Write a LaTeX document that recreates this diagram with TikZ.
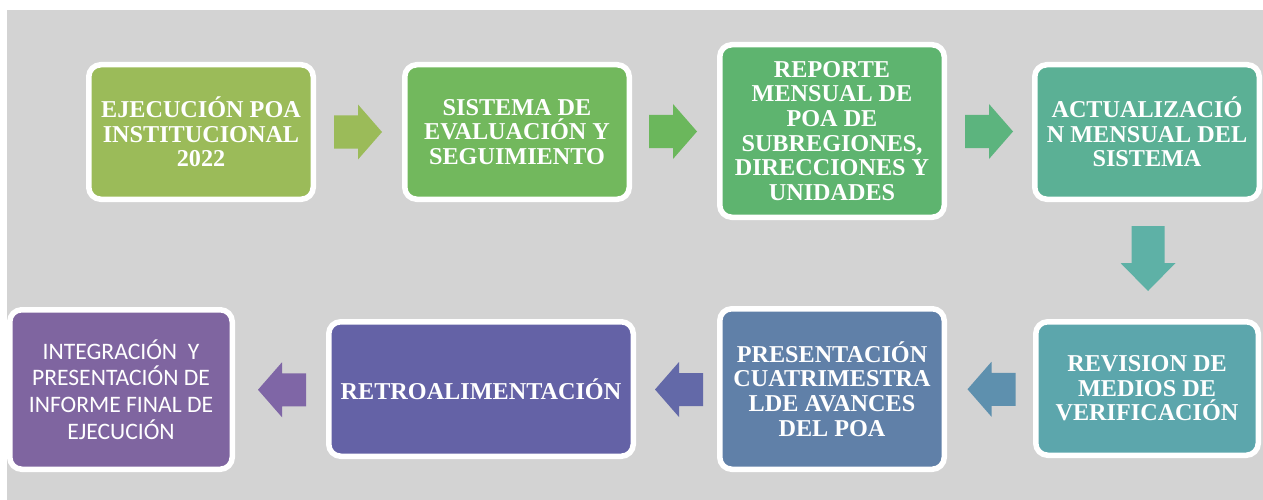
\documentclass[tikz,border=0pt]{standalone}
\usepackage{fontspec}
\setmainfont{Liberation Serif}
\newfontfamily\calfont{Carlito}
\usetikzlibrary{calc}
\definecolor{bg}{HTML}{D3D3D3}
\definecolor{cA}{HTML}{9BBB59}
\definecolor{cB}{HTML}{72B85D}
\definecolor{cC}{HTML}{5EB46F}
\definecolor{cD}{HTML}{5BB095}
\definecolor{cE}{HTML}{5CA6AC}
\definecolor{cF}{HTML}{6080A8}
\definecolor{cG}{HTML}{6462A6}
\definecolor{cH}{HTML}{7F65A0}
\definecolor{aA}{HTML}{9BBB59}
\definecolor{aB}{HTML}{6BB75C}
\definecolor{aC}{HTML}{5CB47E}
\definecolor{aD}{HTML}{5EB1A6}
\definecolor{aE}{HTML}{5E90AE}
\definecolor{aF}{HTML}{6369A8}
\definecolor{aG}{HTML}{7F66A6}
\tikzset{
  stepbox/.style={draw=white, line width=5.5pt, rounded corners=12pt,
    text=white, align=center, inner sep=0pt,
    font=\fontsize{24.2}{24.6}\selectfont\bfseries},
  pics/harrow/.style={code={
    \fill[#1] (-24,-16.5) -- (0,-16.5) -- (0,-27.5) -- (24,0) -- (0,27.5)
      -- (0,16.5) -- (-24,16.5) -- cycle;}},
  pics/varrow/.style={code={
    \fill[#1] (-16.5,-32.5) -- (16.5,-32.5) -- (16.5,4.5) -- (27.5,4.5)
      -- (0,32.5) -- (-27.5,4.5) -- (-16.5,4.5) -- cycle;}},
}
\begin{document}
\begin{tikzpicture}[x=1pt,y=-1pt]
\useasboundingbox (0,0) rectangle (1263,500);
\fill[bg] (7,10) rectangle (1263,500);
% top row
\node[stepbox, fill=cA, minimum width=224.5pt, minimum height=134.5pt] (b1) at (201,132)
  {EJECUCIÓN POA\\INSTITUCIONAL\\2022};
\node[stepbox, fill=cB, minimum width=224.5pt, minimum height=134.5pt] (b2) at (517,132)
  {SISTEMA DE\\EVALUACIÓN Y\\SEGUIMIENTO};
\node[stepbox, fill=cC, minimum width=224.5pt, minimum height=172.5pt] (b3) at (832,131)
  {REPORTE\\MENSUAL DE\\POA DE\\SUBREGIONES,\\DIRECCIONES Y\\UNIDADES};
\node[stepbox, fill=cD, minimum width=224.5pt, minimum height=134.5pt] (b4) at (1147,132)
  {ACTUALIZACIÓ\\N MENSUAL DEL\\SISTEMA};
% bottom row
\node[stepbox, fill=cE, minimum width=222.5pt, minimum height=133.5pt] (b5) at (1147,388.5)
  {REVISION DE\\MEDIOS DE\\VERIFICACIÓN};
\node[stepbox, fill=cF, minimum width=224.5pt, minimum height=160.5pt] (b6) at (832,389)
  {PRESENTACIÓN\\CUATRIMESTRA\\LDE AVANCES\\DEL POA};
\node[stepbox, fill=cG, minimum width=304.5pt, minimum height=134.5pt] (b7) at (481,389)
  {RETROALIMENTACIÓN};
\node[stepbox, fill=cH, minimum width=222.5pt, minimum height=159.5pt,
  font=\calfont\fontsize{23.6}{26.8}\selectfont] (b8) at (121,389.5)
  {INTEGRACIÓN\ \ Y\\PRESENTACIÓN DE\\INFORME FINAL DE\\EJECUCIÓN};
% arrows between boxes
\coordinate (m1) at ($(b1.east)!0.5!(b2.west)+(-1,0)$);
\coordinate (m2) at ($(b2.east)!0.5!(b3.west)+(-1.5,0)$);
\coordinate (m3) at ($(b3.east)!0.5!(b4.west)+(-0.5,0)$);
\coordinate (m4) at ($(b4.south)!0.5!(b5.north)+(1,-2)$);
\coordinate (m5) at ($(b6.east)!0.5!(b5.west)+(1.5,0.5)$);
\coordinate (m6) at ($(b7.east)!0.5!(b6.west)+(2.5,0.5)$);
\coordinate (m7) at ($(b8.east)!0.5!(b7.west)+(1.5,0.5)$);
\pic at (m1) {harrow=aA};
\pic at (m2) {harrow=aB};
\pic at (m3) {harrow=aC};
\pic at (m4) {varrow=aD};
\pic[rotate=180] at (m5) {harrow=aE};
\pic[rotate=180] at (m6) {harrow=aF};
\pic[rotate=180] at (m7) {harrow=aG};
\end{tikzpicture}
\end{document}
